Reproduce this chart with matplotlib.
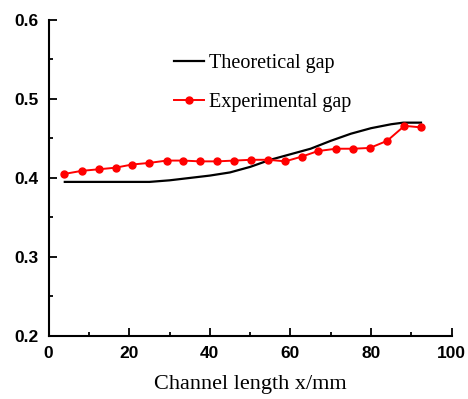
import matplotlib
matplotlib.use("Agg")
import matplotlib.pyplot as plt
from matplotlib.ticker import MultipleLocator

theo_x = [4, 10, 20, 25, 30, 35, 40, 45, 50, 55, 60, 65, 70, 75, 80, 85, 88, 92.4]
theo_y = [0.395, 0.395, 0.395, 0.395, 0.397, 0.400, 0.403, 0.407, 0.414, 0.423,
          0.430, 0.437, 0.447, 0.456, 0.463, 0.468, 0.470, 0.470]

exp_x = [3.8, 8.2, 12.5, 16.6, 20.7, 24.9, 29.3, 33.4, 37.5, 41.8, 46.1, 50.2,
         54.5, 58.7, 62.8, 66.8, 71.3, 75.6, 79.7, 84.0, 88.3, 92.4]
exp_y = [0.405, 0.409, 0.411, 0.413, 0.417, 0.419, 0.422, 0.422, 0.421, 0.421,
         0.422, 0.423, 0.423, 0.421, 0.427, 0.434, 0.437, 0.437, 0.438, 0.447,
         0.466, 0.464]

fig = plt.figure(figsize=(4.68, 3.99), dpi=100)
ax = fig.add_axes([0.104, 0.158, 0.861, 0.792])

ax.plot(theo_x, theo_y, color="black", lw=1.6, label="Theoretical gap")
ax.plot(exp_x, exp_y, color="red", lw=1.4, marker="o", ms=5,
        label="Experimental gap")

ax.set_xlim(0, 100)
ax.set_ylim(0.2, 0.6)
ax.xaxis.set_major_locator(MultipleLocator(20))
ax.xaxis.set_minor_locator(MultipleLocator(10))
ax.yaxis.set_major_locator(MultipleLocator(0.1))
ax.yaxis.set_minor_locator(MultipleLocator(0.05))
ax.set_yticklabels([f"{v:.1f}" for v in ax.get_yticks()])

for s in ["top", "right"]:
    ax.spines[s].set_visible(False)
for s in ["left", "bottom"]:
    ax.spines[s].set_linewidth(1.5)

ax.tick_params(which="both", direction="in", width=1.3, labelsize=12.5)
ax.tick_params(which="major", length=6)
ax.tick_params(which="minor", length=3)
ax.tick_params(axis="x", which="major", pad=7)
ax.tick_params(axis="y", which="major", pad=7)
for lab in ax.get_xticklabels() + ax.get_yticklabels():
    lab.set_fontfamily("Liberation Sans")
    lab.set_fontweight("bold")

ax.set_xlabel("Channel length x/mm", fontfamily="Liberation Serif", fontsize=16,
              labelpad=10)

leg = ax.legend(loc="upper left", bbox_to_anchor=(0.265, 0.95), frameon=False,
                prop={"family": "Liberation Serif", "size": 14.5},
                handlelength=1.5, handletextpad=0.25, labelspacing=1.0)

fig.savefig("out.png", dpi=100)
